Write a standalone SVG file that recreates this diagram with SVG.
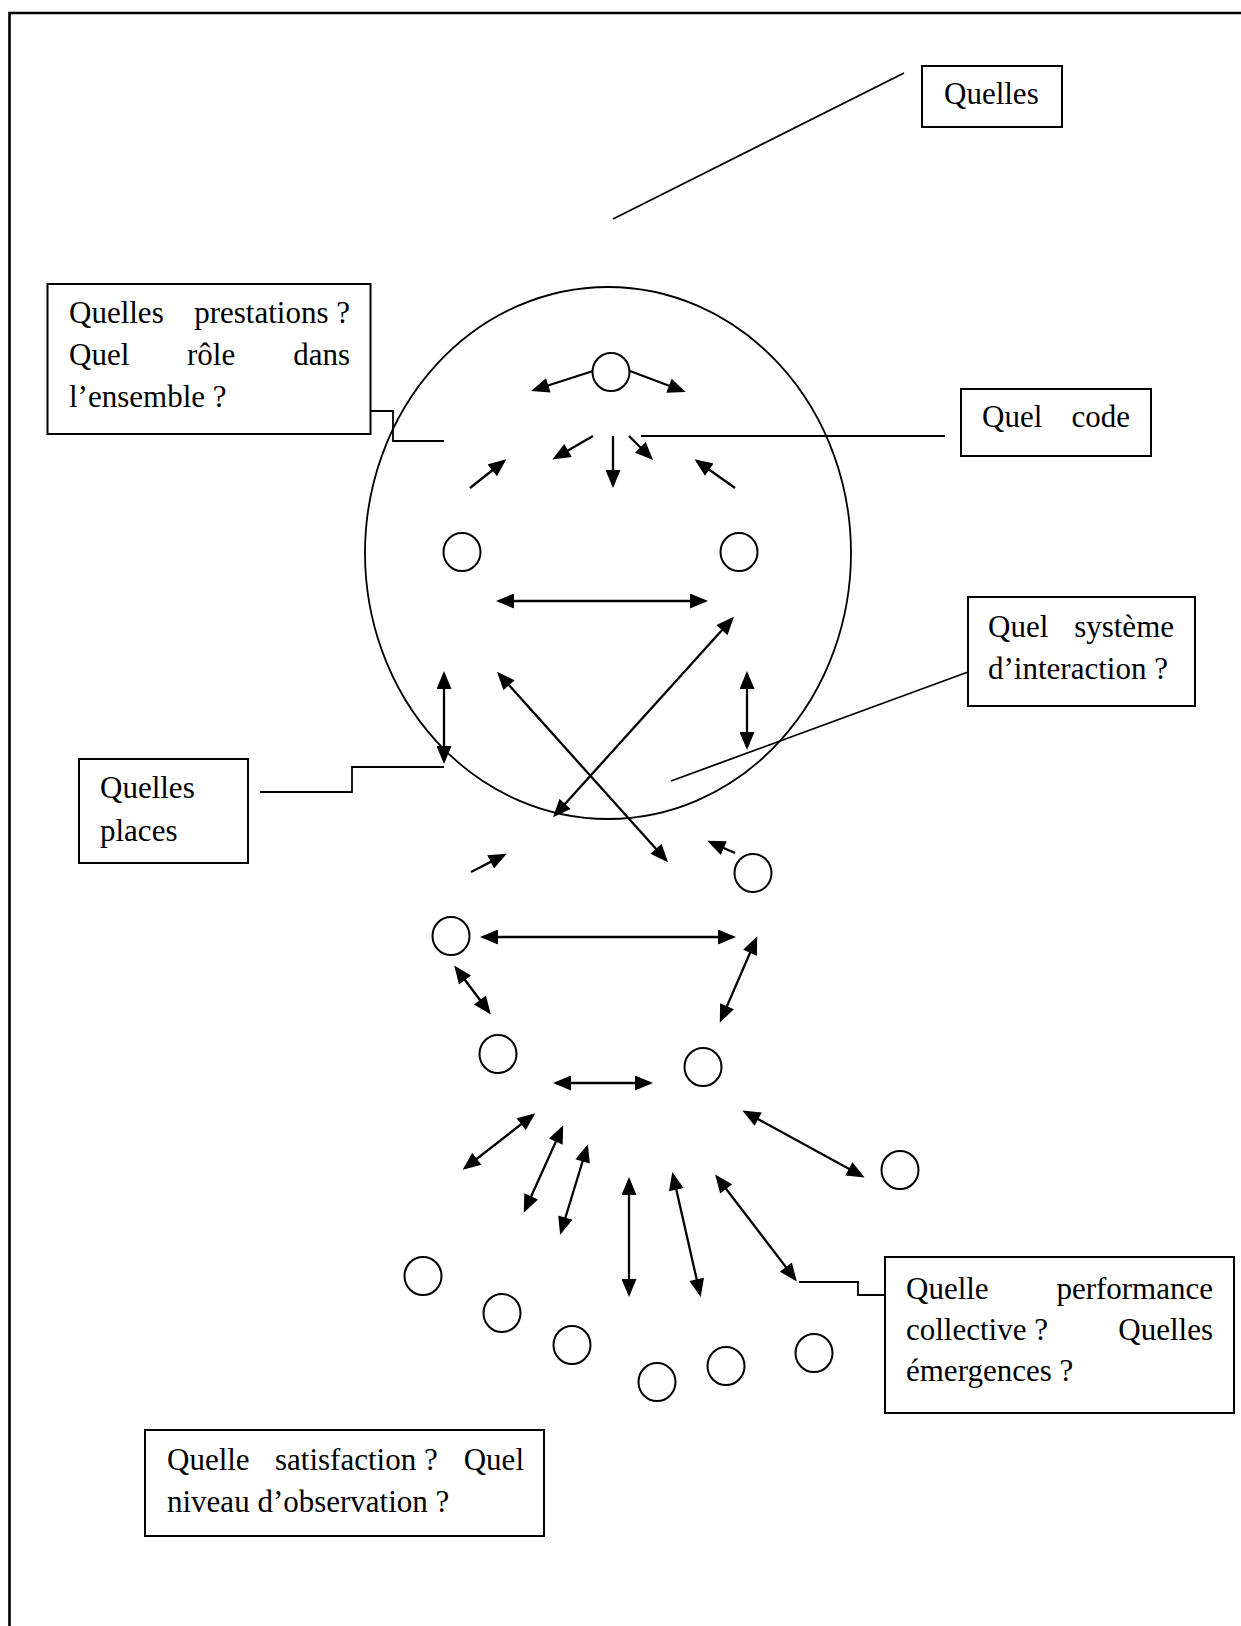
<svg xmlns="http://www.w3.org/2000/svg" width="1241" height="1626" viewBox="0 0 1241 1626">
<defs>
<style>
.t{font-family:"Liberation Serif","Times New Roman",serif;font-size:31px;fill:#000}
.e{text-anchor:end}
.box{fill:#fff;stroke:#000;stroke-width:2}
.node{fill:#fff;stroke:#000;stroke-width:2}
.ln{fill:none;stroke:#000;stroke-width:1.8}
.ar{fill:none;stroke:#000;stroke-width:2.3;marker-end:url(#ah)}
.da{fill:none;stroke:#000;stroke-width:2.3;marker-start:url(#ah);marker-end:url(#ah)}
</style>
<marker id="ah" markerUnits="userSpaceOnUse" markerWidth="19" markerHeight="15" viewBox="0 0 18 15" refX="15" refY="7.5" orient="auto-start-reverse">
<path d="M0,0 L18,7.5 L0,15 z" fill="#000"/>
</marker>
</defs>
<rect x="0" y="0" width="1241" height="1626" fill="#fff"/>
<path d="M9.5,1626 V13 H1241" fill="none" stroke="#000" stroke-width="2.6"/>

<g id="system-ellipse"><ellipse cx="608" cy="553" rx="243" ry="266" fill="none" stroke="#000" stroke-width="1.8"/></g>

<g id="connectors">
<line class="ln" x1="904" y1="73" x2="613" y2="219"/>
<polyline class="ln" points="342,411 393,411 393,441 444,441"/>
<line class="ln" x1="641" y1="436" x2="945" y2="436"/>
<line class="ln" x1="671" y1="781" x2="968" y2="672"/>
<polyline class="ln" points="260,792 352,792 352,767 444,767"/>
<polyline class="ln" points="799,1282 858,1282 858,1295 910,1295"/>

<line class="ar" x1="593" y1="371" x2="534" y2="390"/>
<line class="ar" x1="630" y1="371" x2="683" y2="391"/>
<line class="ar" x1="593" y1="436" x2="555" y2="458"/>
<line class="ar" x1="613" y1="436" x2="613" y2="485"/>
<line class="ar" x1="629" y1="436" x2="651" y2="458"/>
<line class="ar" x1="470" y1="488" x2="504" y2="461"/>
<line class="ar" x1="735" y1="488" x2="697" y2="461"/>
<line class="ar" x1="471" y1="872" x2="504" y2="855"/>
<line class="ar" x1="735" y1="853" x2="710" y2="842"/>

<line class="da" x1="499" y1="601" x2="705" y2="601"/>
<line class="da" x1="555" y1="815" x2="732" y2="619"/>
<line class="da" x1="499" y1="674" x2="666" y2="860"/>
<line class="da" x1="444" y1="674" x2="444" y2="761"/>
<line class="da" x1="747" y1="674" x2="747" y2="747"/>
<line class="da" x1="483" y1="937" x2="733" y2="937"/>
<line class="da" x1="756" y1="939" x2="721" y2="1020"/>
<line class="da" x1="456" y1="968" x2="489" y2="1012"/>
<line class="da" x1="556" y1="1083" x2="650" y2="1083"/>
<line class="da" x1="533" y1="1115" x2="465" y2="1168"/>
<line class="da" x1="562" y1="1128" x2="525" y2="1210"/>
<line class="da" x1="587" y1="1147" x2="561" y2="1232"/>
<line class="da" x1="629" y1="1180" x2="629" y2="1294"/>
<line class="da" x1="673" y1="1175" x2="700" y2="1294"/>
<line class="da" x1="717" y1="1177" x2="795" y2="1279"/>
<line class="da" x1="745" y1="1112" x2="862" y2="1176"/>
</g>

<g id="actors">
<ellipse class="node" cx="611" cy="372" rx="18.5" ry="19"/>
<ellipse class="node" cx="462" cy="552" rx="18.5" ry="19"/>
<ellipse class="node" cx="739" cy="552" rx="18.5" ry="19"/>
<ellipse class="node" cx="753" cy="873" rx="18.5" ry="19"/>
<ellipse class="node" cx="451" cy="936" rx="18.5" ry="19"/>
<ellipse class="node" cx="498" cy="1054" rx="18.5" ry="19"/>
<ellipse class="node" cx="703" cy="1067" rx="18.5" ry="19"/>
<ellipse class="node" cx="900" cy="1170" rx="18.5" ry="19"/>
<ellipse class="node" cx="423" cy="1276" rx="18.5" ry="19"/>
<ellipse class="node" cx="502" cy="1313" rx="18.5" ry="19"/>
<ellipse class="node" cx="572" cy="1345" rx="18.5" ry="19"/>
<ellipse class="node" cx="657" cy="1382" rx="18.5" ry="19"/>
<ellipse class="node" cx="726" cy="1366" rx="18.5" ry="19"/>
<ellipse class="node" cx="814" cy="1353" rx="18.5" ry="19"/>
</g>

<g id="box-quelles">
<rect class="box" x="922" y="66" width="140" height="61"/>
<text class="t" x="944" y="104">Quelles</text>
</g>

<g id="box-prestations">
<rect class="box" x="47.5" y="284" width="323" height="150"/>
<text class="t" x="69" y="323">Quelles</text>
<text class="t e" x="350" y="323">prestations ?</text>
<text class="t" x="69" y="365">Quel</text>
<text class="t" x="187" y="365">rôle</text>
<text class="t e" x="350" y="365">dans</text>
<text class="t" x="69" y="407">l’ensemble ?</text>
</g>

<g id="box-code">
<rect class="box" x="961" y="389" width="190" height="67"/>
<text class="t" x="982" y="427">Quel</text>
<text class="t e" x="1130" y="427">code</text>
</g>

<g id="box-systeme">
<rect class="box" x="968" y="597" width="227" height="109"/>
<text class="t" x="988" y="637">Quel</text>
<text class="t e" x="1174" y="637">système</text>
<text class="t" x="988" y="679">d’interaction ?</text>
</g>

<g id="box-places">
<rect class="box" x="79" y="759" width="169" height="104"/>
<text class="t" x="100" y="798">Quelles</text>
<text class="t" x="100" y="841">places</text>
</g>

<g id="box-performance">
<rect class="box" x="885" y="1257" width="349" height="156"/>
<text class="t" x="906" y="1299">Quelle</text>
<text class="t e" x="1213" y="1299">performance</text>
<text class="t" x="906" y="1340">collective ?</text>
<text class="t e" x="1213" y="1340">Quelles</text>
<text class="t" x="906" y="1381">émergences ?</text>
</g>

<g id="box-satisfaction">
<rect class="box" x="145" y="1430" width="399" height="106"/>
<text class="t" x="167" y="1470">Quelle</text>
<text class="t" x="275" y="1470">satisfaction ?</text>
<text class="t e" x="524" y="1470">Quel</text>
<text class="t" x="167" y="1512">niveau d’observation ?</text>
</g>
</svg>
